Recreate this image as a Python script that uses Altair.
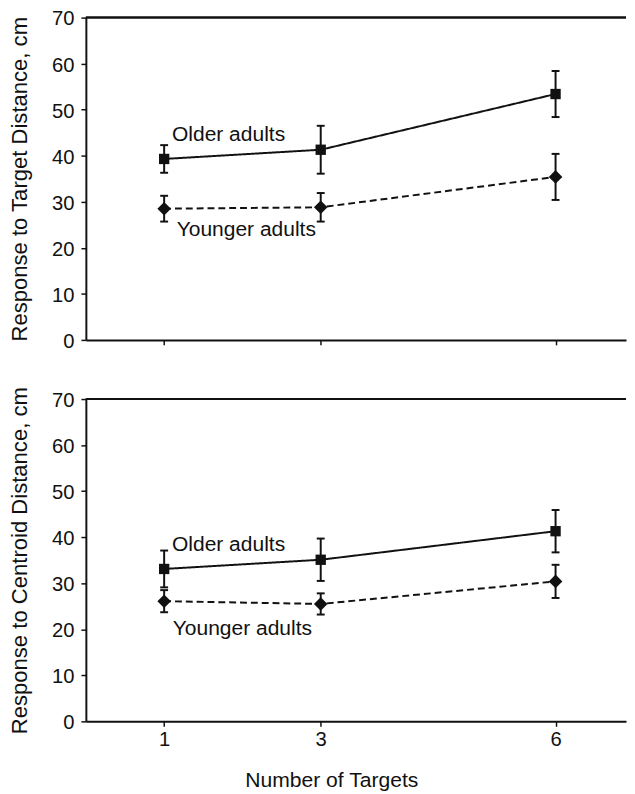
import altair as alt
import pandas as pd

# ---------------- data ----------------
targets = [1, 3, 6]
groups = ["Older adults", "Younger adults"]

top_older_mean = [39.3, 41.3, 53.4]
top_older_err = [3.0, 5.2, 5.0]
top_younger_mean = [28.5, 28.8, 35.4]
top_younger_err = [2.8, 3.1, 5.0]

bottom_older_mean = [33.1, 35.1, 41.3]
bottom_older_err = [4.0, 4.6, 4.6]
bottom_younger_mean = [26.1, 25.5, 30.4]
bottom_younger_err = [2.4, 2.3, 3.6]

top_label_x = [1.1, 1.16]
top_label_y = [44.5, 23.8]
bottom_label_x = [1.1, 1.11]
bottom_label_y = [38.3, 20.1]

y_ticks = [0, 10, 20, 30, 40, 50, 60, 70]
x_ticks = [1, 3, 6]

top_ytitle = "Response to Target Distance, cm"
bottom_ytitle = "Response to Centroid Distance, cm"
x_title = "Number of Targets"

# ---------------- styling ----------------
W = 548
H = 327
INK = "#111111"
FONT = "Liberation Sans"


def make_df(om, oe, ym, ye):
    rows = []
    for g, means, errs in ((groups[0], om, oe), (groups[1], ym, ye)):
        for x, m, e in zip(targets, means, errs):
            rows.append({"group": g, "x": x, "mean": m, "lo": m - e, "hi": m + e})
    return pd.DataFrame(rows)


def panel(om, oe, ym, ye, lx, ly, ytitle, bottom):
    df = make_df(om, oe, ym, ye)
    lab = pd.DataFrame({"text": groups, "x": lx, "y": ly})

    xscale = alt.Scale(domain=[0, 6.9], nice=False, zero=False)
    yscale = alt.Scale(domain=[0, 70], nice=False)

    if bottom:
        xaxis = alt.Axis(values=x_ticks, title=x_title, format="d", labelAngle=0,
                         labelPadding=4, titlePadding=20, titleX=249, titleFontSize=21.4)
    else:
        xaxis = alt.Axis(values=x_ticks, labels=False, title=None)
    yaxis = alt.Axis(values=y_ticks, title=ytitle, labelPadding=7, titlePadding=20,
                     titleFontSize=22.4, labelOffset=1.5)

    base = alt.Chart(df)
    X = alt.X("x:Q", scale=xscale, axis=xaxis)
    Y = alt.Y("mean:Q", scale=yscale, axis=yaxis)

    lines = base.mark_line(color=INK, strokeWidth=2).encode(
        x=X, y=Y,
        strokeDash=alt.StrokeDash("group:N", scale=alt.Scale(domain=groups, range=[[1, 0], [7, 4]]),
                                  legend=None),
        detail="group:N",
    )
    bars = base.mark_rule(color=INK, strokeWidth=2).encode(
        x="x:Q", y="lo:Q", y2="hi:Q")
    cap_lo = base.mark_tick(color=INK, orient="horizontal", size=8, thickness=2, opacity=1).encode(
        x="x:Q", y="lo:Q")
    cap_hi = base.mark_tick(color=INK, orient="horizontal", size=8, thickness=2, opacity=1).encode(
        x="x:Q", y="hi:Q")
    sq = base.transform_filter(alt.datum.group == groups[0]).mark_point(
        shape="square", filled=True, size=110, color=INK, opacity=1).encode(x="x:Q", y="mean:Q")
    dm = base.transform_filter(alt.datum.group == groups[1]).mark_point(
        shape="diamond", filled=True, size=190, color=INK, opacity=1).encode(x="x:Q", y="mean:Q")
    border = alt.Chart(lab).mark_rule(color=INK, strokeWidth=2).encode(
        x=alt.value(0), x2=alt.value(W), y=alt.value(0))
    texts = alt.Chart(lab).mark_text(align="left", baseline="middle", font=FONT,
                                     fontSize=21.3, color=INK).encode(
        x="x:Q", y="y:Q", text="text:N")

    return alt.layer(lines, bars, cap_lo, cap_hi, sq, dm, border, texts).properties(width=W, height=H)


top = panel(top_older_mean, top_older_err, top_younger_mean, top_younger_err,
            top_label_x, top_label_y, top_ytitle, False)
bot = panel(bottom_older_mean, bottom_older_err, bottom_younger_mean, bottom_younger_err,
            bottom_label_x, bottom_label_y, bottom_ytitle, True)

chart = alt.vconcat(top, bot, spacing=35).properties(
    padding={"left": 1, "top": -5, "right": 0, "bottom": 0}
).configure_view(stroke=None).configure_axis(
    grid=False,
    domainColor=INK, domainWidth=2,
    tickColor=INK, tickWidth=1.5, tickSize=5,
    labelFont=FONT, labelFontSize=20.5, labelColor=INK,
    titleFont=FONT, titleFontSize=21.4, titleFontWeight="normal", titleColor=INK,
)

chart.save("out.html", embed_options={"renderer": "svg", "actions": False})
